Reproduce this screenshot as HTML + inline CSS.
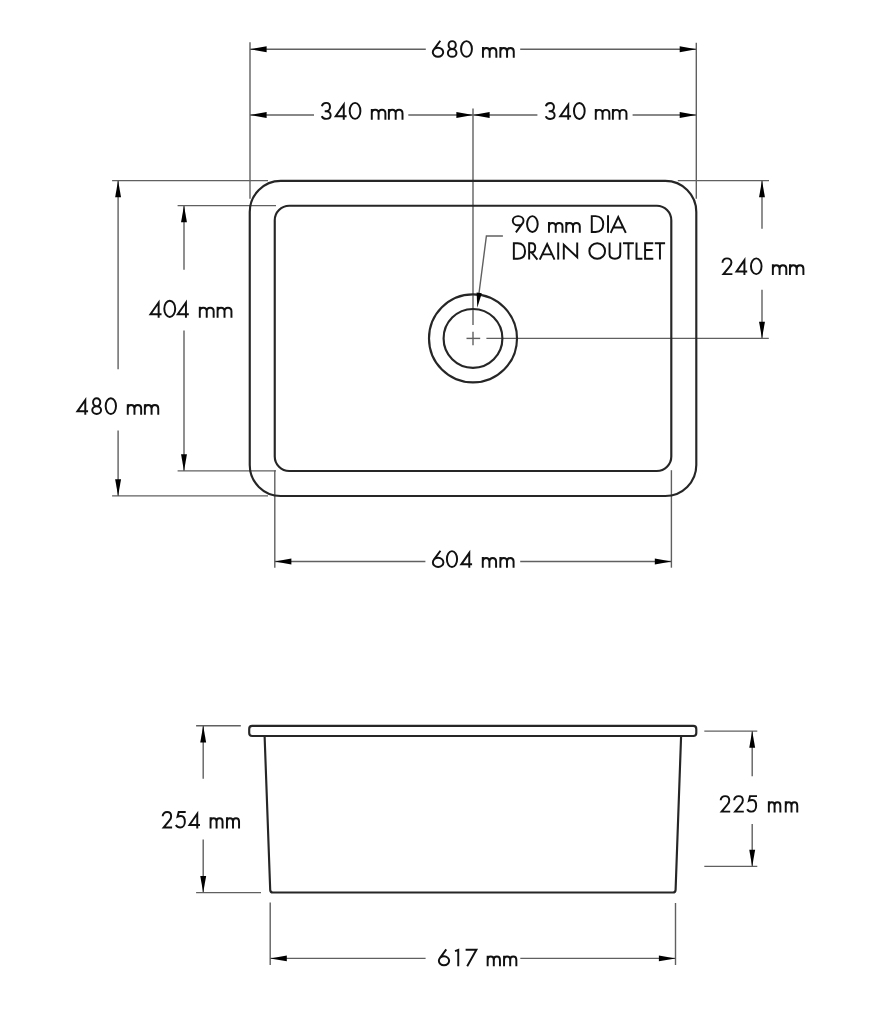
<!DOCTYPE html>
<html><head><meta charset="utf-8"><style>
html,body{margin:0;padding:0;background:#fff;}
svg{display:block;}
body{font-family:"Liberation Sans",sans-serif;}
</style></head><body>
<svg width="895" height="1014" viewBox="0 0 895 1014">
<rect width="895" height="1014" fill="#fff"/>
<line x1="250" y1="42.3" x2="250" y2="198.8" stroke="#606060" stroke-width="1.4"/>
<line x1="696.3" y1="42.8" x2="696.3" y2="198.8" stroke="#606060" stroke-width="1.4"/>
<line x1="250" y1="49.3" x2="425.8" y2="49.3" stroke="#606060" stroke-width="1.4"/>
<line x1="520.2" y1="49.3" x2="696.3" y2="49.3" stroke="#606060" stroke-width="1.4"/>
<polygon points="250.00,49.30 266.60,46.35 266.60,52.25" fill="#000"/>
<polygon points="696.30,49.30 679.70,52.25 679.70,46.35" fill="#000"/>
<line x1="250" y1="115" x2="314" y2="115" stroke="#606060" stroke-width="1.4"/>
<line x1="408.3" y1="115" x2="473" y2="115" stroke="#606060" stroke-width="1.4"/>
<polygon points="250.00,115.00 266.60,112.05 266.60,117.95" fill="#000"/>
<polygon points="473.00,115.00 456.40,117.95 456.40,112.05" fill="#000"/>
<line x1="473" y1="115" x2="537.4" y2="115" stroke="#606060" stroke-width="1.4"/>
<line x1="632.6" y1="115" x2="696.3" y2="115" stroke="#606060" stroke-width="1.4"/>
<polygon points="473.00,115.00 489.60,112.05 489.60,117.95" fill="#000"/>
<polygon points="696.30,115.00 679.70,117.95 679.70,112.05" fill="#000"/>
<line x1="473" y1="108.4" x2="473" y2="325" stroke="#606060" stroke-width="1.4"/>
<line x1="473" y1="331.7" x2="473" y2="345.2" stroke="#606060" stroke-width="1.4"/>
<line x1="466.5" y1="338.4" x2="480.2" y2="338.4" stroke="#606060" stroke-width="1.4"/>
<line x1="486.4" y1="338.4" x2="768.8" y2="338.4" stroke="#606060" stroke-width="1.4"/>
<line x1="677.8" y1="180.6" x2="769" y2="180.6" stroke="#606060" stroke-width="1.4"/>
<line x1="762" y1="180.6" x2="762" y2="228.7" stroke="#606060" stroke-width="1.4"/>
<line x1="762" y1="289.7" x2="762" y2="338.4" stroke="#606060" stroke-width="1.4"/>
<polygon points="762.00,180.60 764.95,197.20 759.05,197.20" fill="#000"/>
<polygon points="762.00,338.40 759.05,321.80 764.95,321.80" fill="#000"/>
<line x1="112.1" y1="180.6" x2="268" y2="180.6" stroke="#606060" stroke-width="1.4"/>
<line x1="112.1" y1="495.9" x2="268" y2="495.9" stroke="#606060" stroke-width="1.4"/>
<line x1="118.1" y1="180.6" x2="118.1" y2="369.3" stroke="#606060" stroke-width="1.4"/>
<line x1="118.1" y1="430.5" x2="118.1" y2="495.9" stroke="#606060" stroke-width="1.4"/>
<polygon points="118.10,180.60 121.05,197.20 115.15,197.20" fill="#000"/>
<polygon points="118.10,495.90 115.15,479.30 121.05,479.30" fill="#000"/>
<line x1="177.6" y1="205.6" x2="276" y2="205.6" stroke="#606060" stroke-width="1.4"/>
<line x1="177.6" y1="470.9" x2="276" y2="470.9" stroke="#606060" stroke-width="1.4"/>
<line x1="184" y1="205.6" x2="184" y2="269.7" stroke="#606060" stroke-width="1.4"/>
<line x1="184" y1="330.5" x2="184" y2="470.9" stroke="#606060" stroke-width="1.4"/>
<polygon points="184.00,205.60 186.95,222.20 181.05,222.20" fill="#000"/>
<polygon points="184.00,470.90 181.05,454.30 186.95,454.30" fill="#000"/>
<line x1="274.8" y1="470.2" x2="274.8" y2="567.7" stroke="#606060" stroke-width="1.4"/>
<line x1="671.4" y1="470.2" x2="671.4" y2="567.7" stroke="#606060" stroke-width="1.4"/>
<line x1="274.8" y1="561.5" x2="425.4" y2="561.5" stroke="#606060" stroke-width="1.4"/>
<line x1="520.2" y1="561.5" x2="671.4" y2="561.5" stroke="#606060" stroke-width="1.4"/>
<polygon points="274.80,561.50 291.40,558.55 291.40,564.45" fill="#000"/>
<polygon points="671.40,561.50 654.80,564.45 654.80,558.55" fill="#000"/>
<rect x="249.75" y="180.9" width="446.55" height="315.1" rx="31" ry="31" fill="none" stroke="#262626" stroke-width="2.15"/>
<rect x="274.75" y="205.75" width="396.55" height="265.25" rx="14.5" ry="14.5" fill="none" stroke="#262626" stroke-width="2.15"/>
<circle cx="473" cy="338.4" r="44" fill="none" stroke="#262626" stroke-width="2.15"/>
<circle cx="473" cy="338.4" r="29.4" fill="none" stroke="#262626" stroke-width="2.15"/>
<polyline points="502.9,236 486.4,236 478.9,294" fill="none" stroke="#606060" stroke-width="1.4"/>
<polygon points="477.30,307.80 476.61,292.59 481.77,293.25" fill="#000"/>
<rect x="249.2" y="725.9" width="447.1" height="10.05" rx="3" ry="3" fill="none" stroke="#262626" stroke-width="2.15"/>
<path d="M264.6,735.95 L270.2,889.9 Q270.3,892.5 272.9,892.5 L672.9,892.5 Q675.5,892.5 675.6,889.9 L681.1,735.95" fill="none" stroke="#262626" stroke-width="2.15"/>
<line x1="196.1" y1="725.8" x2="240.8" y2="725.8" stroke="#606060" stroke-width="1.4"/>
<line x1="196.1" y1="892.6" x2="261" y2="892.6" stroke="#606060" stroke-width="1.4"/>
<line x1="203.2" y1="725.8" x2="203.2" y2="778.7" stroke="#606060" stroke-width="1.4"/>
<line x1="203.2" y1="839.5" x2="203.2" y2="892.6" stroke="#606060" stroke-width="1.4"/>
<polygon points="203.20,725.80 206.15,742.40 200.25,742.40" fill="#000"/>
<polygon points="203.20,892.60 200.25,876.00 206.15,876.00" fill="#000"/>
<line x1="704.3" y1="731.1" x2="757.3" y2="731.1" stroke="#606060" stroke-width="1.4"/>
<line x1="704.3" y1="866.4" x2="757.3" y2="866.4" stroke="#606060" stroke-width="1.4"/>
<line x1="752.2" y1="731.1" x2="752.2" y2="776.2" stroke="#606060" stroke-width="1.4"/>
<line x1="752.2" y1="823.9" x2="752.2" y2="866.4" stroke="#606060" stroke-width="1.4"/>
<polygon points="752.20,731.10 755.15,747.70 749.25,747.70" fill="#000"/>
<polygon points="752.20,866.40 749.25,849.80 755.15,849.80" fill="#000"/>
<line x1="270.2" y1="902.5" x2="270.2" y2="965" stroke="#606060" stroke-width="1.4"/>
<line x1="675.5" y1="903" x2="675.5" y2="965" stroke="#606060" stroke-width="1.4"/>
<line x1="270.2" y1="958.4" x2="425.6" y2="958.4" stroke="#606060" stroke-width="1.4"/>
<line x1="520.3" y1="958.4" x2="675.5" y2="958.4" stroke="#606060" stroke-width="1.4"/>
<polygon points="270.20,958.40 286.80,955.45 286.80,961.35" fill="#000"/>
<polygon points="675.50,958.40 658.90,961.35 658.90,955.45" fill="#000"/>
<g fill="none" stroke="#111" stroke-width="1.95" stroke-linejoin="miter" stroke-miterlimit="4">
<path transform="translate(431.9,40.25) scale(1.0145)" stroke-width="1.922" d="M0.85,11.85 A5.15,4.50 0 1 0 11.15,11.85 A5.15,4.50 0 1 0 0.85,11.85 Z M1.67,9.42 L8.26,0.45"/>
<path transform="translate(447.0,40.25) scale(1.0145)" stroke-width="1.922" d="M1.55,4.77 A3.55,3.92 0 1 0 8.65,4.77 A3.55,3.92 0 1 0 1.55,4.77 Z M0.85,12.52 A4.25,3.82 0 1 0 9.35,12.52 A4.25,3.82 0 1 0 0.85,12.52 Z"/>
<path transform="translate(460.2,40.25) scale(1.0145)" stroke-width="1.922" d="M0.85,8.60 A5.35,7.75 0 1 0 11.55,8.60 A5.35,7.75 0 1 0 0.85,8.60 Z"/>
<path transform="translate(482.0,40.25) scale(1.0145)" stroke-width="1.922" d="M0.95,17.20 L0.95,6.70 M0.95,11.00 C0.95,8.75 2.15,7.55 4.25,7.55 C6.35,7.55 7.55,8.75 7.55,11.00 L7.55,17.20 M7.55,11.00 C7.55,8.75 8.75,7.55 10.85,7.55 C12.95,7.55 14.15,8.75 14.15,11.00 L14.15,17.20 "/>
<path transform="translate(499.4,40.25) scale(1.0145)" stroke-width="1.922" d="M0.95,17.20 L0.95,6.70 M0.95,11.00 C0.95,8.75 2.15,7.55 4.25,7.55 C6.35,7.55 7.55,8.75 7.55,11.00 L7.55,17.20 M7.55,11.00 C7.55,8.75 8.75,7.55 10.85,7.55 C12.95,7.55 14.15,8.75 14.15,11.00 L14.15,17.20 "/>
<path transform="translate(321.0,102.00) scale(1.0320)" stroke-width="1.890" d="M0.85,4.1 C1.3,2.1 3.0,0.85 5.0,0.85 C7.2,0.85 8.7,2.5 8.7,4.8 C8.7,7.1 7.1,8.90 5.0,8.90 L3.6,8.90 M5.0,8.90 C7.6,8.90 9.35,10.6 9.35,12.8 C9.35,15.0 7.4,16.35 5.0,16.35 C2.9,16.35 1.3,15.3 0.75,13.7"/>
<path transform="translate(333.6,102.00) scale(1.0320)" stroke-width="1.890" d="M9.85,17.20 L9.85,2.6 L2.05,13.75 L12.60,13.75"/>
<path transform="translate(348.8,102.00) scale(1.0320)" stroke-width="1.890" d="M0.85,8.60 A5.20,7.75 0 1 0 11.25,8.60 A5.20,7.75 0 1 0 0.85,8.60 Z"/>
<path transform="translate(370.8,102.00) scale(1.0320)" stroke-width="1.890" d="M0.95,17.20 L0.95,6.70 M0.95,11.00 C0.95,8.75 2.15,7.55 4.25,7.55 C6.35,7.55 7.55,8.75 7.55,11.00 L7.55,17.20 M7.55,11.00 C7.55,8.75 8.75,7.55 10.85,7.55 C12.95,7.55 14.15,8.75 14.15,11.00 L14.15,17.20 "/>
<path transform="translate(387.9,102.00) scale(1.0320)" stroke-width="1.890" d="M0.95,17.20 L0.95,6.70 M0.95,11.00 C0.95,8.75 2.15,7.55 4.25,7.55 C6.35,7.55 7.55,8.75 7.55,11.00 L7.55,17.20 M7.55,11.00 C7.55,8.75 8.75,7.55 10.85,7.55 C12.95,7.55 14.15,8.75 14.15,11.00 L14.15,17.20 "/>
<path transform="translate(545.0,102.10) scale(1.0291)" stroke-width="1.895" d="M0.85,4.1 C1.3,2.1 3.0,0.85 5.0,0.85 C7.2,0.85 8.7,2.5 8.7,4.8 C8.7,7.1 7.1,8.90 5.0,8.90 L3.6,8.90 M5.0,8.90 C7.6,8.90 9.35,10.6 9.35,12.8 C9.35,15.0 7.4,16.35 5.0,16.35 C2.9,16.35 1.3,15.3 0.75,13.7"/>
<path transform="translate(558.1,102.10) scale(1.0291)" stroke-width="1.895" d="M9.85,17.20 L9.85,2.6 L2.05,13.75 L12.60,13.75"/>
<path transform="translate(573.1,102.10) scale(1.0291)" stroke-width="1.895" d="M0.85,8.60 A5.20,7.75 0 1 0 11.25,8.60 A5.20,7.75 0 1 0 0.85,8.60 Z"/>
<path transform="translate(594.8,102.10) scale(1.0291)" stroke-width="1.895" d="M0.95,17.20 L0.95,6.70 M0.95,11.00 C0.95,8.75 2.15,7.55 4.25,7.55 C6.35,7.55 7.55,8.75 7.55,11.00 L7.55,17.20 M7.55,11.00 C7.55,8.75 8.75,7.55 10.85,7.55 C12.95,7.55 14.15,8.75 14.15,11.00 L14.15,17.20 "/>
<path transform="translate(611.9,102.10) scale(1.0291)" stroke-width="1.895" d="M0.95,17.20 L0.95,6.70 M0.95,11.00 C0.95,8.75 2.15,7.55 4.25,7.55 C6.35,7.55 7.55,8.75 7.55,11.00 L7.55,17.20 M7.55,11.00 C7.55,8.75 8.75,7.55 10.85,7.55 C12.95,7.55 14.15,8.75 14.15,11.00 L14.15,17.20 "/>
<path transform="translate(511.9,215.25) scale(1.0233)" stroke-width="1.906" d="M11.35,5.35 A5.25,4.50 0 1 0 0.85,5.35 A5.25,4.50 0 1 0 11.35,5.35 Z M10.54,7.75 L3.92,16.75"/>
<path transform="translate(526.2,215.25) scale(1.0233)" stroke-width="1.906" d="M0.85,8.60 A5.20,7.75 0 1 0 11.25,8.60 A5.20,7.75 0 1 0 0.85,8.60 Z"/>
<path transform="translate(548.0,215.25) scale(1.0233)" stroke-width="1.906" d="M0.95,17.20 L0.95,6.70 M0.95,11.00 C0.95,8.75 2.15,7.55 4.25,7.55 C6.35,7.55 7.55,8.75 7.55,11.00 L7.55,17.20 M7.55,11.00 C7.55,8.75 8.75,7.55 10.85,7.55 C12.95,7.55 14.15,8.75 14.15,11.00 L14.15,17.20 "/>
<path transform="translate(565.3,215.25) scale(1.0233)" stroke-width="1.906" d="M0.95,17.20 L0.95,6.70 M0.95,11.00 C0.95,8.75 2.15,7.55 4.25,7.55 C6.35,7.55 7.55,8.75 7.55,11.00 L7.55,17.20 M7.55,11.00 C7.55,8.75 8.75,7.55 10.85,7.55 C12.95,7.55 14.15,8.75 14.15,11.00 L14.15,17.20 "/>
<path transform="translate(590.9,215.25) scale(1.0233)" stroke-width="1.906" d="M0.85,0.85 L0.85,16.35 L4.6,16.35 C9.4,16.35 12.05,13.3 12.05,8.60 C12.05,4.0 9.4,0.85 4.6,0.85 Z"/>
<path transform="translate(607.0,215.25) scale(1.0233)" stroke-width="1.906" d="M1.0,0 L1.0,17.20"/>
<path transform="translate(610.2,215.25) scale(1.0233)" stroke-width="1.906" d="M0.45,17.20 L7.85,1.7 L15.25,17.20 M3.1,12.0 L12.60,12.0"/>
<path transform="translate(513.0,242.40)" d="M0.85,0.85 L0.85,16.35 L4.6,16.35 C9.4,16.35 12.05,13.3 12.05,8.60 C12.05,4.0 9.4,0.85 4.6,0.85 Z"/>
<path transform="translate(528.2,242.40)" d="M0.95,17.20 L0.95,0.85 L3.6,0.85 C5.9,0.85 7.0,2.6 7.0,5.4 C7.0,8.3 5.6,9.9 3.4,9.9 L0.95,9.9 M3.3,9.9 L9.20,17.20"/>
<path transform="translate(539.3,242.40)" d="M0.45,17.20 L7.85,1.7 L15.25,17.20 M3.1,12.0 L12.60,12.0"/>
<path transform="translate(557.2,242.40)" d="M1.0,0 L1.0,17.20"/>
<path transform="translate(562.8,242.40)" d="M1.0,17.20 L1.0,2.3 L14.40,14.90 L14.40,0"/>
<path transform="translate(588.5,242.40)" d="M0.85,8.60 A7.85,7.75 0 1 0 16.55,8.60 A7.85,7.75 0 1 0 0.85,8.60 Z"/>
<path transform="translate(608.6,242.40)" d="M0.95,0 L0.95,11.4 C0.95,14.7 3.2,16.35 6.30,16.35 C9.40,16.35 11.65,14.7 11.65,11.4 L11.65,0"/>
<path transform="translate(623.0,242.40)" d="M0,0.85 L10.90,0.85 M5.45,0.85 L5.45,17.20"/>
<path transform="translate(635.5,242.40)" d="M1.0,0 L1.0,16.35 L6.90,16.35"/>
<path transform="translate(644.1,242.40)" d="M9.20,0.85 L1.0,0.85 L1.0,16.35 L9.20,16.35 M1.0,7.6 L8.40,7.6"/>
<path transform="translate(654.8,242.40)" d="M0,0.85 L10.30,0.85 M5.15,0.85 L5.15,17.20"/>
<path transform="translate(721.6,257.50) scale(1.0174)" stroke-width="1.917" d="M0.90,5.1 C0.85,2.4 2.9,0.85 5.3,0.85 C7.8,0.85 9.65,2.6 9.65,5.0 C9.65,6.6 8.9,7.8 7.9,9.0 L1.85,16.35 L10.60,16.35"/>
<path transform="translate(734.4,257.50) scale(1.0174)" stroke-width="1.917" d="M9.85,17.20 L9.85,2.6 L2.05,13.75 L12.60,13.75"/>
<path transform="translate(750.1,257.50) scale(1.0174)" stroke-width="1.917" d="M0.85,8.60 A5.20,7.75 0 1 0 11.25,8.60 A5.20,7.75 0 1 0 0.85,8.60 Z"/>
<path transform="translate(771.9,257.50) scale(1.0174)" stroke-width="1.917" d="M0.95,17.20 L0.95,6.70 M0.95,11.00 C0.95,8.75 2.15,7.55 4.25,7.55 C6.35,7.55 7.55,8.75 7.55,11.00 L7.55,17.20 M7.55,11.00 C7.55,8.75 8.75,7.55 10.85,7.55 C12.95,7.55 14.15,8.75 14.15,11.00 L14.15,17.20 "/>
<path transform="translate(789.0,257.50) scale(1.0174)" stroke-width="1.917" d="M0.95,17.20 L0.95,6.70 M0.95,11.00 C0.95,8.75 2.15,7.55 4.25,7.55 C6.35,7.55 7.55,8.75 7.55,11.00 L7.55,17.20 M7.55,11.00 C7.55,8.75 8.75,7.55 10.85,7.55 C12.95,7.55 14.15,8.75 14.15,11.00 L14.15,17.20 "/>
<path transform="translate(148.3,299.80) scale(1.0494)" stroke-width="1.858" d="M9.85,17.20 L9.85,2.6 L2.05,13.75 L12.60,13.75"/>
<path transform="translate(163.4,299.80) scale(1.0494)" stroke-width="1.858" d="M0.85,8.60 A5.20,7.75 0 1 0 11.25,8.60 A5.20,7.75 0 1 0 0.85,8.60 Z"/>
<path transform="translate(175.6,299.80) scale(1.0494)" stroke-width="1.858" d="M9.85,17.20 L9.85,2.6 L2.05,13.75 L12.60,13.75"/>
<path transform="translate(198.8,299.80) scale(1.0494)" stroke-width="1.858" d="M0.95,17.20 L0.95,6.70 M0.95,11.00 C0.95,8.75 2.15,7.55 4.25,7.55 C6.35,7.55 7.55,8.75 7.55,11.00 L7.55,17.20 M7.55,11.00 C7.55,8.75 8.75,7.55 10.85,7.55 C12.95,7.55 14.15,8.75 14.15,11.00 L14.15,17.20 "/>
<path transform="translate(216.6,299.80) scale(1.0494)" stroke-width="1.858" d="M0.95,17.20 L0.95,6.70 M0.95,11.00 C0.95,8.75 2.15,7.55 4.25,7.55 C6.35,7.55 7.55,8.75 7.55,11.00 L7.55,17.20 M7.55,11.00 C7.55,8.75 8.75,7.55 10.85,7.55 C12.95,7.55 14.15,8.75 14.15,11.00 L14.15,17.20 "/>
<path transform="translate(75.3,397.40) scale(1.0145)" stroke-width="1.922" d="M9.85,17.20 L9.85,2.6 L2.05,13.75 L12.60,13.75"/>
<path transform="translate(91.4,397.40) scale(1.0145)" stroke-width="1.922" d="M1.65,4.77 A3.55,3.92 0 1 0 8.75,4.77 A3.55,3.92 0 1 0 1.65,4.77 Z M0.85,12.52 A4.35,3.82 0 1 0 9.55,12.52 A4.35,3.82 0 1 0 0.85,12.52 Z"/>
<path transform="translate(104.8,397.40) scale(1.0145)" stroke-width="1.922" d="M0.85,8.60 A5.10,7.75 0 1 0 11.05,8.60 A5.10,7.75 0 1 0 0.85,8.60 Z"/>
<path transform="translate(126.8,397.40) scale(1.0145)" stroke-width="1.922" d="M0.95,17.20 L0.95,6.70 M0.95,11.00 C0.95,8.75 2.15,7.55 4.25,7.55 C6.35,7.55 7.55,8.75 7.55,11.00 L7.55,17.20 M7.55,11.00 C7.55,8.75 8.75,7.55 10.85,7.55 C12.95,7.55 14.15,8.75 14.15,11.00 L14.15,17.20 "/>
<path transform="translate(143.9,397.40) scale(1.0145)" stroke-width="1.922" d="M0.95,17.20 L0.95,6.70 M0.95,11.00 C0.95,8.75 2.15,7.55 4.25,7.55 C6.35,7.55 7.55,8.75 7.55,11.00 L7.55,17.20 M7.55,11.00 C7.55,8.75 8.75,7.55 10.85,7.55 C12.95,7.55 14.15,8.75 14.15,11.00 L14.15,17.20 "/>
<path transform="translate(432.0,550.25) scale(1.0233)" stroke-width="1.906" d="M0.85,11.85 A5.15,4.50 0 1 0 11.15,11.85 A5.15,4.50 0 1 0 0.85,11.85 Z M1.67,9.42 L8.26,0.45"/>
<path transform="translate(446.0,550.25) scale(1.0233)" stroke-width="1.906" d="M0.85,8.60 A5.00,7.75 0 1 0 10.85,8.60 A5.00,7.75 0 1 0 0.85,8.60 Z"/>
<path transform="translate(459.2,550.25) scale(1.0233)" stroke-width="1.906" d="M9.85,17.20 L9.85,2.6 L2.05,13.75 L12.60,13.75"/>
<path transform="translate(481.8,550.25) scale(1.0233)" stroke-width="1.906" d="M0.95,17.20 L0.95,6.70 M0.95,11.00 C0.95,8.75 2.15,7.55 4.20,7.55 C6.25,7.55 7.45,8.75 7.45,11.00 L7.45,17.20 M7.45,11.00 C7.45,8.75 8.65,7.55 10.70,7.55 C12.75,7.55 13.95,8.75 13.95,11.00 L13.95,17.20 "/>
<path transform="translate(499.4,550.25) scale(1.0233)" stroke-width="1.906" d="M0.95,17.20 L0.95,6.70 M0.95,11.00 C0.95,8.75 2.15,7.55 4.17,7.55 C6.20,7.55 7.40,8.75 7.40,11.00 L7.40,17.20 M7.40,11.00 C7.40,8.75 8.60,7.55 10.62,7.55 C12.65,7.55 13.85,8.75 13.85,11.00 L13.85,17.20 "/>
<path transform="translate(161.8,811.20)" d="M0.90,5.1 C0.85,2.4 2.9,0.85 5.3,0.85 C7.8,0.85 9.35,2.6 9.35,5.0 C9.35,6.6 8.9,7.8 7.9,9.0 L1.85,16.35 L10.30,16.35"/>
<path transform="translate(175.1,811.20)" d="M10.60,0.85 L3.6,0.85 L2.5,5.5 C3.4,5.0 4.6,4.8 5.8,4.8 C8.4,4.8 9.75,7.2 9.75,10.5 C9.75,14.1 7.7,16.35 5.1,16.35 C3.2,16.35 1.6,15.4 0.75,13.9"/>
<path transform="translate(187.4,811.20)" d="M9.85,17.20 L9.85,2.6 L2.05,13.75 L12.60,13.75"/>
<path transform="translate(209.6,811.20)" d="M0.95,17.20 L0.95,6.10 M0.95,10.40 C0.95,8.15 2.15,6.95 3.95,6.95 C5.75,6.95 6.95,8.15 6.95,10.40 L6.95,17.20 M6.95,10.40 C6.95,8.15 8.15,6.95 9.95,6.95 C11.75,6.95 12.95,8.15 12.95,10.40 L12.95,17.20 "/>
<path transform="translate(226.0,811.20)" d="M0.95,17.20 L0.95,6.10 M0.95,10.40 C0.95,8.15 2.15,6.95 3.98,6.95 C5.80,6.95 7.00,8.15 7.00,10.40 L7.00,17.20 M7.00,10.40 C7.00,8.15 8.20,6.95 10.03,6.95 C11.85,6.95 13.05,8.15 13.05,10.40 L13.05,17.20 "/>
<path transform="translate(719.8,795.25)" d="M0.90,5.1 C0.85,2.4 2.9,0.85 5.3,0.85 C7.8,0.85 9.45,2.6 9.45,5.0 C9.45,6.6 8.9,7.8 7.9,9.0 L1.85,16.35 L10.40,16.35"/>
<path transform="translate(733.3,795.25)" d="M0.90,5.1 C0.85,2.4 2.9,0.85 5.3,0.85 C7.8,0.85 9.55,2.6 9.55,5.0 C9.55,6.6 8.9,7.8 7.9,9.0 L1.85,16.35 L10.50,16.35"/>
<path transform="translate(746.4,795.25)" d="M10.60,0.85 L3.6,0.85 L2.5,5.5 C3.4,5.0 4.6,4.8 5.8,4.8 C8.4,4.8 9.75,7.2 9.75,10.5 C9.75,14.1 7.7,16.35 5.1,16.35 C3.2,16.35 1.6,15.4 0.75,13.9"/>
<path transform="translate(767.9,795.25)" d="M0.95,17.20 L0.95,6.10 M0.95,10.40 C0.95,8.15 2.15,6.95 3.83,6.95 C5.50,6.95 6.70,8.15 6.70,10.40 L6.70,17.20 M6.70,10.40 C6.70,8.15 7.90,6.95 9.58,6.95 C11.25,6.95 12.45,8.15 12.45,10.40 L12.45,17.20 "/>
<path transform="translate(784.8,795.25)" d="M0.95,17.20 L0.95,6.10 M0.95,10.40 C0.95,8.15 2.15,6.95 3.83,6.95 C5.50,6.95 6.70,8.15 6.70,10.40 L6.70,17.20 M6.70,10.40 C6.70,8.15 7.90,6.95 9.58,6.95 C11.25,6.95 12.45,8.15 12.45,10.40 L12.45,17.20 "/>
<path transform="translate(438.0,948.95)" d="M0.85,11.85 A5.15,4.50 0 1 0 11.15,11.85 A5.15,4.50 0 1 0 0.85,11.85 Z M1.67,9.42 L8.26,0.45"/>
<path transform="translate(454.6,948.95)" d="M0.45,2.2 L3.65,0.95 L3.65,17.20"/>
<path transform="translate(465.6,948.95)" d="M0,0.85 L10.80,0.85 L1.6,17.20"/>
<path transform="translate(486.7,948.95)" d="M0.95,17.20 L0.95,6.70 M0.95,11.00 C0.95,8.75 2.15,7.55 4.02,7.55 C5.90,7.55 7.10,8.75 7.10,11.00 L7.10,17.20 M7.10,11.00 C7.10,8.75 8.30,7.55 10.18,7.55 C12.05,7.55 13.25,8.75 13.25,11.00 L13.25,17.20 "/>
<path transform="translate(503.1,948.95)" d="M0.95,17.20 L0.95,6.70 M0.95,11.00 C0.95,8.75 2.15,7.55 4.02,7.55 C5.90,7.55 7.10,8.75 7.10,11.00 L7.10,17.20 M7.10,11.00 C7.10,8.75 8.30,7.55 10.18,7.55 C12.05,7.55 13.25,8.75 13.25,11.00 L13.25,17.20 "/>
</g>
</svg>
</body></html>
